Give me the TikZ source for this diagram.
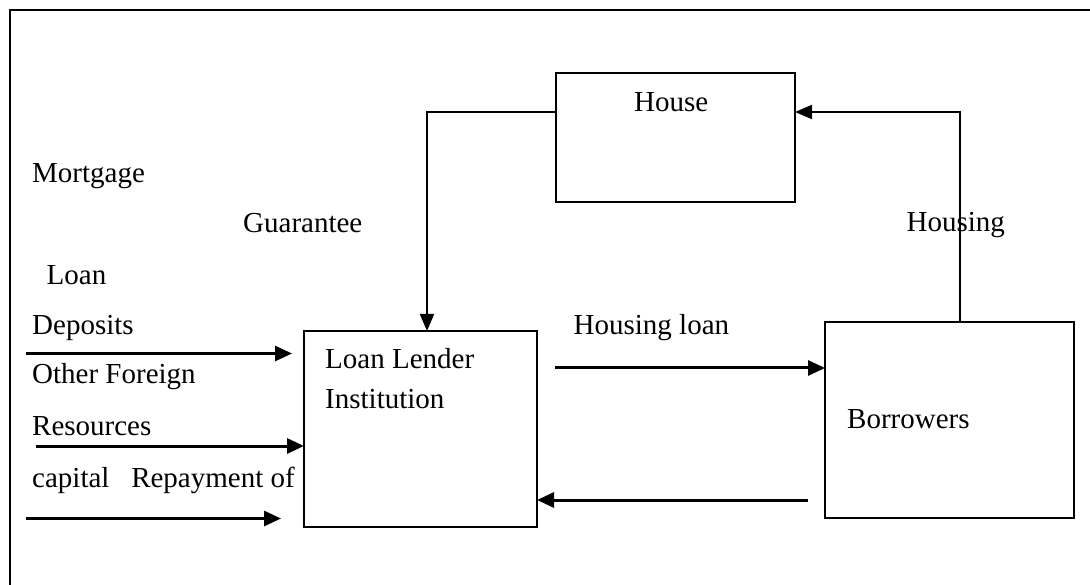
\documentclass[tikz,border=0pt]{standalone}
\usepackage{fontspec}
\setmainfont{Liberation Serif}
\usetikzlibrary{arrows.meta}
\begin{document}
\begin{tikzpicture}[x=1pt,y=-1pt,
  box/.style={draw,line width=2pt},
  lbl/.style={anchor=base west,inner sep=0pt,font=\fontsize{29}{35}\selectfont},
  flow/.style={line width=3pt,-{Triangle[length=17pt,width=15pt]}},
  link/.style={line width=2pt,-{Triangle[length=17pt,width=14pt]}}]
\useasboundingbox (0,0) rectangle (1090,585);
\fill[white] (0,0) rectangle (1090,585);
% outer frame, running off the right and bottom edges
\draw[line width=2.5pt] (1100,10) -- (10,10) -- (10,600);

% boxes
\draw[box] (556,73) rectangle (795,202);
\draw[box] (304,331) rectangle (537,527);
\draw[box] (825,322) rectangle (1074,518);
\coordinate (houseL) at (556,112);
\coordinate (houseR) at (795,112);
\coordinate (lenderTop) at (427,331);
\coordinate (borrTop) at (960,322);
\coordinate (lenderR1) at (825,368);
\coordinate (lenderL1) at (555,368);
\coordinate (borrL2) at (808,500);
\coordinate (lenderR2) at (537,500);

% box texts
\node[lbl] (house) at (634,112) {House};
\node[lbl] (lender1) at (325,368.5) {Loan Lender};
\node[lbl] (lender2) at (325,408) {Institution};
\node[lbl] (borr) at (847,428) {Borrowers};

% guarantee and housing links
\draw[link] (houseL) -- (427,112) -- (lenderTop);
\draw[link] (borrTop) -- (960,112) -- (houseR);

% loan flows between lender and borrowers
\draw[flow] (lenderL1) -- (lenderR1);
\draw[flow] (borrL2) -- (lenderR2);

% incoming resources
\coordinate (in1a) at (26,353.5);
\coordinate (in1b) at (292,353.5);
\coordinate (in2a) at (36,446);
\coordinate (in2b) at (304,446);
\coordinate (in3a) at (26,518.5);
\coordinate (in3b) at (281,518.5);
\draw[flow] (in1a) -- (in1b);
\draw[flow] (in2a) -- (in2b);
\draw[flow] (in3a) -- (in3b);

% labels
\node[lbl] (mort) at (32,183) {Mortgage};
\node[lbl] (guar) at (243,233) {Guarantee};
\node[lbl] (hsg) at (906.5,232) {Housing};
\node[lbl] (loan) at (46.5,284.5) {Loan};
\node[lbl] (dep) at (32,335) {Deposits};
\node[lbl] (hloan) at (573.5,335) {Housing loan};
\node[lbl] (ofor) at (32,384) {Other Foreign};
\node[lbl] (res) at (32,435) {Resources};
\node[lbl] (cap) at (32,487) {capital\hspace{0.5em} Repayment of};
\end{tikzpicture}
\end{document}
